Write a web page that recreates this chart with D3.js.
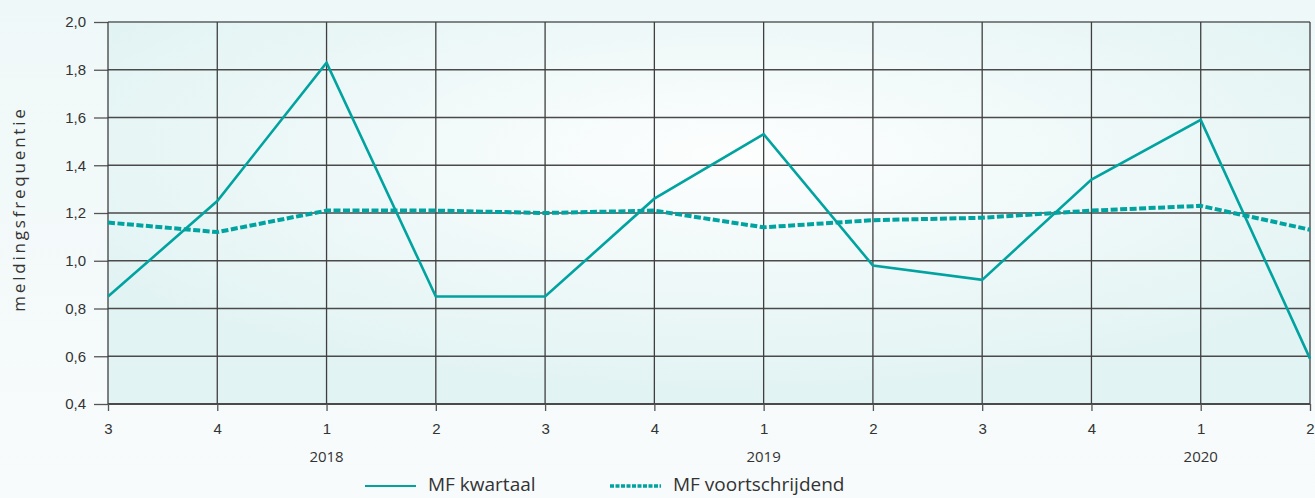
<!DOCTYPE html>
<html>
<head>
<meta charset="utf-8">
<script src="https://cdn.jsdelivr.net/npm/d3@7"></script>
<style>
  html, body { margin: 0; padding: 0; background: #f4fafb; }
  svg { display: block; font-family: "Open Sans", sans-serif; }
</style>
</head>
<body>
<svg id="chart"></svg>
<script>
// quarters along the x axis, year shown under each Q1
const quarters = ['3', '4', '1', '2', '3', '4', '1', '2', '3', '4', '1', '2'];
const years = ['', '', '2018', '', '', '', '2019', '', '', '', '2020', ''];

const kwartaal = [0.85, 1.25, 1.83, 0.85, 0.85, 1.26, 1.53, 0.98, 0.92, 1.34, 1.59, 0.59];
const voortschrijdend = [1.16, 1.12, 1.21, 1.21, 1.20, 1.21, 1.14, 1.17, 1.18, 1.21, 1.23, 1.13];

const yTicks = [0.4, 0.6, 0.8, 1.0, 1.2, 1.4, 1.6, 1.8, 2.0];

const width = 1315, height = 498;
const margin = { top: 22, right: 5, bottom: 94, left: 108 };
const teal = '#00a3a0';

const svg = d3.select('#chart').attr('width', width).attr('height', height);

// background gradient for the plot area
const defs = svg.append('defs');
const grad = defs.append('radialGradient')
    .attr('id', 'bg')
    .attr('cx', '52%').attr('cy', '35%').attr('r', '62%');
grad.append('stop').attr('offset', '0%').attr('stop-color', '#fdfefe');
grad.append('stop').attr('offset', '100%').attr('stop-color', '#e2f3f3');

const pageGrad = defs.append('linearGradient')
    .attr('id', 'page').attr('x1', 0).attr('y1', 0).attr('x2', 0).attr('y2', 1);
pageGrad.append('stop').attr('offset', '0%').attr('stop-color', '#eff8f8');
pageGrad.append('stop').attr('offset', '100%').attr('stop-color', '#f8fbfc');

svg.append('rect').attr('width', width).attr('height', height).attr('fill', 'url(#page)');

const x = d3.scalePoint()
    .domain(d3.range(quarters.length))
    .range([margin.left, width - margin.right]);

const y = d3.scaleLinear()
    .domain([0.4, 2.0])
    .range([height - margin.bottom, margin.top]);

svg.append('rect')
    .attr('x', margin.left).attr('y', margin.top)
    .attr('width', x.range()[1] - margin.left)
    .attr('height', y(0.4) - margin.top)
    .attr('fill', 'url(#bg)');

// y axis with gridlines
const fmt = d => d3.format('.1f')(d).replace('.', ',');
const yAxis = svg.append('g')
    .attr('transform', `translate(${margin.left},0)`)
    .call(d3.axisLeft(y)
        .tickValues(yTicks)
        .tickFormat(fmt)
        .tickSize(14)
        .tickPadding(8));
yAxis.select('.domain').remove();
yAxis.selectAll('line').attr('stroke', '#555').attr('stroke-width', 1.3);
yAxis.selectAll('text').attr('fill', '#333').style('font-size', '15px');

svg.append('g')
    .selectAll('line')
    .data(yTicks)
    .join('line')
    .attr('x1', margin.left).attr('x2', x.range()[1])
    .attr('y1', d => y(d)).attr('y2', d => y(d))
    .attr('stroke', d => d === 2.0 ? '#7f8584' : '#4a4a4a')
    .attr('stroke-width', d => d === 2.0 || d === 0.4 ? 2 : 1.3);

// vertical gridlines
svg.append('g')
    .selectAll('line')
    .data(d3.range(quarters.length))
    .join('line')
    .attr('x1', d => x(d)).attr('x2', d => x(d))
    .attr('y1', margin.top).attr('y2', y(0.4))
    .attr('stroke', '#3f3f3f')
    .attr('stroke-width', 1.3);

// x axis
const xAxis = svg.append('g')
    .attr('transform', `translate(0,${y(0.4)})`)
    .call(d3.axisBottom(x)
        .tickFormat(i => quarters[i])
        .tickSize(7)
        .tickPadding(12));
xAxis.select('.domain').remove();
xAxis.selectAll('line').attr('stroke', '#555').attr('stroke-width', 1.3);
xAxis.selectAll('text').attr('fill', '#333').style('font-size', '15px');

svg.append('g')
    .selectAll('text')
    .data(years)
    .join('text')
    .attr('x', (d, i) => x(i))
    .attr('y', 462)
    .attr('text-anchor', 'middle')
    .attr('fill', '#333')
    .style('font-size', '15px')
    .text(d => d);

// y axis title
svg.append('text')
    .attr('transform', 'translate(25,209) rotate(-90)')
    .attr('text-anchor', 'middle')
    .attr('fill', '#333')
    .style('font-size', '17px')
    .style('letter-spacing', '2.8px')
    .text('meldingsfrequentie');

// lines
const line = d3.line()
    .x((d, i) => x(i))
    .y(d => y(d));

svg.append('path')
    .datum(voortschrijdend)
    .attr('d', line)
    .attr('fill', 'none')
    .attr('stroke', teal)
    .attr('stroke-width', 4)
    .attr('stroke-dasharray', '7,2.5');

svg.append('path')
    .datum(kwartaal)
    .attr('d', line)
    .attr('fill', 'none')
    .attr('stroke', teal)
    .attr('stroke-width', 2.6)
    .attr('stroke-linejoin', 'miter');

// legend
const legend = [
    { label: 'MF kwartaal', x: 365, dash: null, w: 2.2 },
    { label: 'MF voortschrijdend', x: 610, dash: '4,1.5', w: 3.4 }
];
const lg = svg.append('g')
    .selectAll('g')
    .data(legend)
    .join('g')
    .attr('transform', d => `translate(${d.x},486)`);
lg.append('line')
    .attr('x1', 0).attr('x2', 51)
    .attr('stroke', teal)
    .attr('stroke-width', d => d.w)
    .attr('stroke-dasharray', d => d.dash);
lg.append('text')
    .attr('x', 63).attr('y', 5)
    .attr('fill', '#333')
    .style('font-size', '19px')
    .text(d => d.label);
</script>
</body>
</html>
